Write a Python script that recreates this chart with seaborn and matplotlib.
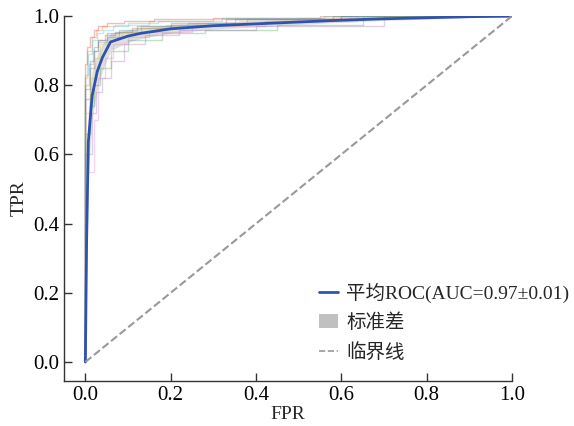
import pandas as pd
import matplotlib
matplotlib.use("Agg")
import matplotlib.pyplot as plt
import seaborn as sns
from matplotlib.lines import Line2D
from matplotlib.patches import Patch

# per-fold ROC step curves
fold_fpr = [
    [0, 0, 0.01, 0.02, 0.03, 0.05, 0.08, 0.12, 0.2, 0.35, 0.6, 1.0],
    [0, 0, 0.005, 0.015, 0.025, 0.04, 0.07, 0.15, 0.3, 0.5, 0.7, 1.0],
    [0, 0, 0.01, 0.02, 0.035, 0.06, 0.1, 0.18, 0.28, 0.45, 0.65, 1.0],
    [0, 0, 0.005, 0.01, 0.02, 0.03, 0.05, 0.09, 0.16, 0.3, 0.55, 1.0],
    [0, 0, 0.015, 0.025, 0.04, 0.06, 0.09, 0.14, 0.22, 0.4, 0.7, 1.0],
    [0, 0, 0.01, 0.02, 0.03, 0.045, 0.07, 0.11, 0.2, 0.33, 0.58, 1.0],
    [0, 0, 0.02, 0.03, 0.045, 0.065, 0.1, 0.15, 0.25, 0.42, 0.62, 1.0],
    [0, 0, 0.008, 0.018, 0.03, 0.05, 0.08, 0.13, 0.24, 0.38, 0.6, 1.0],
    [0, 0, 0.012, 0.022, 0.035, 0.055, 0.085, 0.12, 0.19, 0.36, 0.64, 1.0],
    [0, 0, 0.006, 0.016, 0.028, 0.042, 0.065, 0.1, 0.17, 0.32, 0.56, 1.0],
]
fold_tpr = [
    [0, 0.66, 0.79, 0.87, 0.91, 0.93, 0.95, 0.96, 0.97, 0.98, 0.99, 1.0],
    [0, 0.72, 0.82, 0.9, 0.94, 0.96, 0.97, 0.975, 0.985, 0.99, 0.995, 1.0],
    [0, 0.52, 0.66, 0.74, 0.8, 0.85, 0.9, 0.93, 0.95, 0.96, 0.975, 1.0],
    [0, 0.75, 0.86, 0.91, 0.94, 0.96, 0.97, 0.98, 0.985, 0.99, 0.995, 1.0],
    [0, 0.45, 0.6, 0.72, 0.78, 0.82, 0.87, 0.92, 0.945, 0.96, 0.97, 1.0],
    [0, 0.62, 0.76, 0.85, 0.9, 0.93, 0.945, 0.955, 0.965, 0.975, 0.99, 1.0],
    [0, 0.25, 0.55, 0.7, 0.82, 0.88, 0.92, 0.94, 0.955, 0.97, 0.985, 1.0],
    [0, 0.68, 0.8, 0.86, 0.9, 0.925, 0.94, 0.955, 0.97, 0.98, 0.99, 1.0],
    [0, 0.58, 0.72, 0.82, 0.88, 0.92, 0.94, 0.955, 0.965, 0.975, 0.985, 1.0],
    [0, 0.7, 0.83, 0.89, 0.93, 0.95, 0.96, 0.97, 0.98, 0.985, 0.995, 1.0],
]

# mean ROC and its standard deviation
mean_fpr = [0, 0.003, 0.007, 0.016, 0.028, 0.04, 0.059, 0.1, 0.13, 0.2, 0.3, 0.45, 0.6, 0.7, 0.8, 0.9, 1.0]
mean_tpr = [0, 0.35, 0.636, 0.77, 0.84, 0.88, 0.925, 0.942, 0.95, 0.963, 0.972, 0.98, 0.988, 0.992, 0.995, 0.998, 1.0]
std_tpr = [0, 0.12, 0.1, 0.07, 0.05, 0.04, 0.025, 0.018, 0.015, 0.012, 0.01, 0.008, 0.006, 0.005, 0.004, 0.002, 0]

mean_label = "平均ROC(AUC=0.97±0.01)"
std_label = "标准差"
chance_label = "临界线"


def main():
    sns.set_theme(style="ticks")
    plt.rcParams["font.family"] = ["Liberation Serif", "Noto Sans CJK SC"]
    plt.rcParams["axes.unicode_minus"] = False

    fig = plt.figure(figsize=(5.74, 4.26), dpi=100)
    ax = fig.add_axes([0.1115, 0.1056, 0.7805, 0.8568])

    colors = sns.color_palette("tab10", len(fold_fpr))
    for i, (fx, fy) in enumerate(zip(fold_fpr, fold_tpr)):
        ax.plot(fx, fy, drawstyle="steps-pre", color=colors[i], lw=1, alpha=0.3)

    lo = [max(m - s, 0) for m, s in zip(mean_tpr, std_tpr)]
    hi = [min(m + s, 1) for m, s in zip(mean_tpr, std_tpr)]
    ax.fill_between(mean_fpr, lo, hi, color="grey", alpha=0.25, lw=0)

    df = pd.DataFrame({"FPR": mean_fpr, "TPR": mean_tpr})
    sns.lineplot(data=df, x="FPR", y="TPR", ax=ax, color="#2f52b0", lw=2,
                 sort=False, estimator=None)
    ax.plot([0, 1], [0, 1], ls="--", color="#999999", lw=1.5)

    ax.set_xlim(-0.05, 1.0)
    ax.set_ylim(-0.055, 1.0)
    ax.set_xticks([0, 0.2, 0.4, 0.6, 0.8, 1.0])
    ax.set_yticks([0, 0.2, 0.4, 0.6, 0.8, 1.0])
    ax.set_xticklabels(["0.0", "0.2", "0.4", "0.6", "0.8", "1.0"])
    ax.set_yticklabels(["0.0", "0.2", "0.4", "0.6", "0.8", "1.0"])
    ax.tick_params(direction="in", labelsize=15, length=6, width=1, colors="#333333")
    for t in ax.get_xticklabels() + ax.get_yticklabels():
        t.set_color("black")
    ax.set_xlabel("FPR", fontsize=14, labelpad=1)
    ax.set_ylabel("TPR", fontsize=14, labelpad=4)
    sns.despine(ax=ax)
    for s in ["left", "bottom"]:
        ax.spines[s].set_color("#333333")
        ax.spines[s].set_linewidth(1)

    handles = [
        Line2D([], [], color="#2f52b0", lw=2),
        Patch(facecolor="#c0c0c0", edgecolor="none"),
        Line2D([], [], color="#999999", lw=1.2, ls="--"),
    ]
    ax.legend(handles, [mean_label, std_label, chance_label], loc="lower left",
              bbox_to_anchor=(0.53, 0.005), frameon=False, fontsize=14,
              handlelength=1.0, handletextpad=0.4, labelspacing=0.55)

    fig.savefig("out.png", dpi=100)


if __name__ == "__main__":
    main()
